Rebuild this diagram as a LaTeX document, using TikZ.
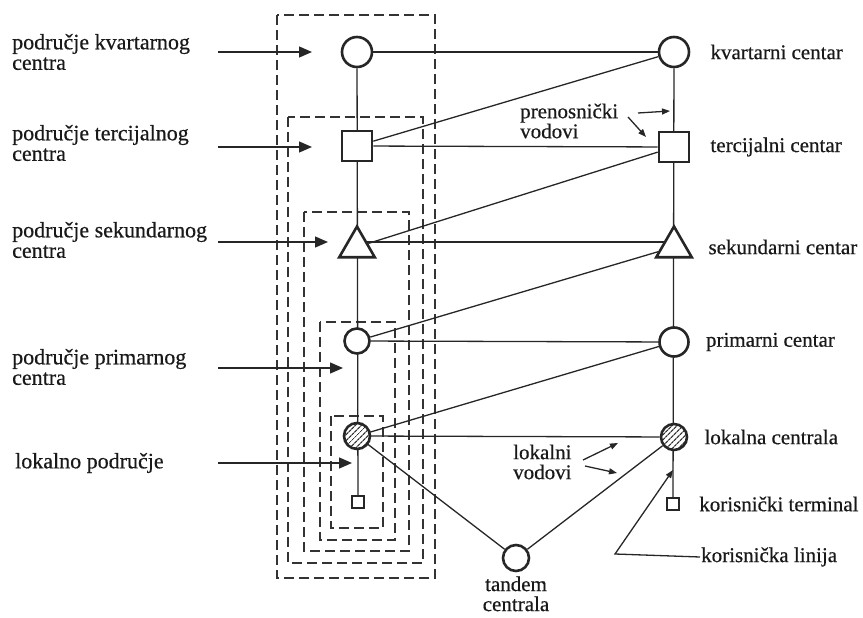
\documentclass[tikz,border=0pt]{standalone}
\usepackage{fontspec}
\setmainfont{Liberation Serif}[RawFeature={embolden=0.5}]
\usetikzlibrary{positioning,arrows.meta,shapes.geometric,patterns.meta,backgrounds}

\begin{document}
\begin{tikzpicture}[
    x=1pt, y=-1pt,
    stn/.style={draw=black!85, line width=2.6pt, fill=white, inner sep=0pt},
    ctr/.style={stn, circle, minimum size=30pt},
    sq/.style={stn, rectangle, minimum size=30pt},
    tri/.style={stn, regular polygon, regular polygon sides=3, minimum size=41pt},
    loc/.style={ctr, minimum size=26pt, preaction={fill=white},
      pattern={Lines[angle=45,distance=4pt,line width=1.3pt]}, pattern color=black!80},
    term/.style={stn, rectangle, minimum size=12pt, line width=2.2pt},
    lbl/.style={font=\fontsize{21}{20}\selectfont, inner sep=1pt, text=black!90},
    albl/.style={lbl, font=\fontsize{22}{20.5}\selectfont, anchor=west, align=left},
    link/.style={line width=1.3pt, draw=black!85},
    area/.style={line width=1.3pt, draw=black!80, dash pattern=on 10pt off 5pt},
    arr/.style={link, -{Triangle[length=13pt,width=11pt]}},
    sarr/.style={link, -{Triangle[length=8pt,width=6pt]}}
  ]
    \useasboundingbox (0,0) rectangle (863,618);

    \node[ctr] (lq) at (357,52) {};
    \node[sq] (lt) at (357,146) {};
    \node[tri] (ls) at (357,247) {};
    \node[ctr, minimum size=25pt] (lp) at (357,341) {};
    \node[loc] (ll) at (357,436) {};
    \node[term] (lu) at (358,502) {};

    \node[ctr] (rq) at (674,52) {};
    \node[sq] (rt) at (674,147) {};
    \node[tri] (rs) at (674,247) {};
    \node[ctr, minimum size=29pt] (rp) at (674,342) {};
    \node[loc] (rl) at (674,437) {};
    \node[term] (ru) at (673,504) {};

    \node[ctr, minimum size=26pt] (tan) at (516,558) {};

    \node[albl] (akv) at (11,52) {područje kvartarnog\\centra};
    \node[albl] (ate) at (11,143) {područje tercijalnog\\centra};
    \node[albl] (ase) at (11,240) {područje sekundarnog\\centra};
    \node[albl] (apr) at (11,367) {područje primarnog\\centra};
    \node[albl] (alo) at (14,463) {lokalno područje};

    \node[lbl, right=19pt of rq] (nkv) {kvartarni centar};
    \node[lbl, right=19pt of rt] (nte) {tercijalni centar};
    \node[lbl, right=20pt of rs] (nse) {sekundarni centar};
    \node[lbl, right=15pt of rp] (npr) {primarni centar};
    \node[lbl, right=15pt of rl] (nlo) {lokalna centrala};
    \node[lbl, right=18pt of ru] (nku) {korisnički terminal};
    \node[lbl, anchor=west] (nkl) at (700,557) {korisnička linija};

    \node[lbl, anchor=west, align=left] (pvod) at (519,121) {prenosnički\\vodovi};
    \node[lbl, anchor=west, align=left] (lvod) at (512,462) {lokalni\\vodovi};
    \node[lbl, align=center, below=3pt of tan] (tanl) {tandem\\centrala};

    \coordinate (pa1) at (638,113);
    \coordinate (pb1) at (670,111);
    \coordinate (pa2) at (628,117);
    \coordinate (pb2) at (646,137);
    \coordinate (la1) at (583,460);
    \coordinate (lb1) at (618,443);
    \coordinate (la2) at (585,466);
    \coordinate (lb2) at (617,473);
    \coordinate (kc) at (615,554);
    \coordinate (kt) at (673,470);

    \begin{scope}[on background layer]
      \draw[area] (277,15) rectangle (435,578);
      \draw[area] (288,117) rectangle (423,563);
      \draw[area] (304,212) rectangle (409,551);
      \draw[area] (320,322) rectangle (395,540);
      \draw[area] (331,416) rectangle (383,528);

      \draw[link] (lq) -- (lu);
      \draw[link] (rq) -- (ru);
      \draw[link] (lq) -- (rq);
      \draw[link] (lt) -- (rt);
      \draw[link] ([yshift=5pt]ls.center) -- ([yshift=5pt]rs.center);
      \draw[link] (lp) -- (rp);
      \draw[link] (ll) -- (rl);
      \draw[link] (lt) -- (rq);
      \draw[link] (ls) -- (rt);
      \draw[link] (lp) -- (rs);
      \draw[link] (ll) -- (rp);
      \draw[link] (ll) -- (tan);
      \draw[link] (tan) -- (rl);
    \end{scope}

    \foreach \n/\y/\t in {kv/52/312, te/147/312, se/242/328, pr/368/343, lo/463/352} {
      \coordinate (\n s) at (218,\y);
      \coordinate (\n e) at (\t,\y);
      \draw[arr] (\n s) -- (\n e);
    }

    \draw[sarr] (pa1) -- (pb1);
    \draw[sarr] (pa2) -- (pb2);
    \draw[sarr] (la1) -- (lb1);
    \draw[sarr] (la2) -- (lb2);
    \draw[sarr] (nkl.west) -- (kc) -- (kt);
  \end{tikzpicture}
\end{document}
